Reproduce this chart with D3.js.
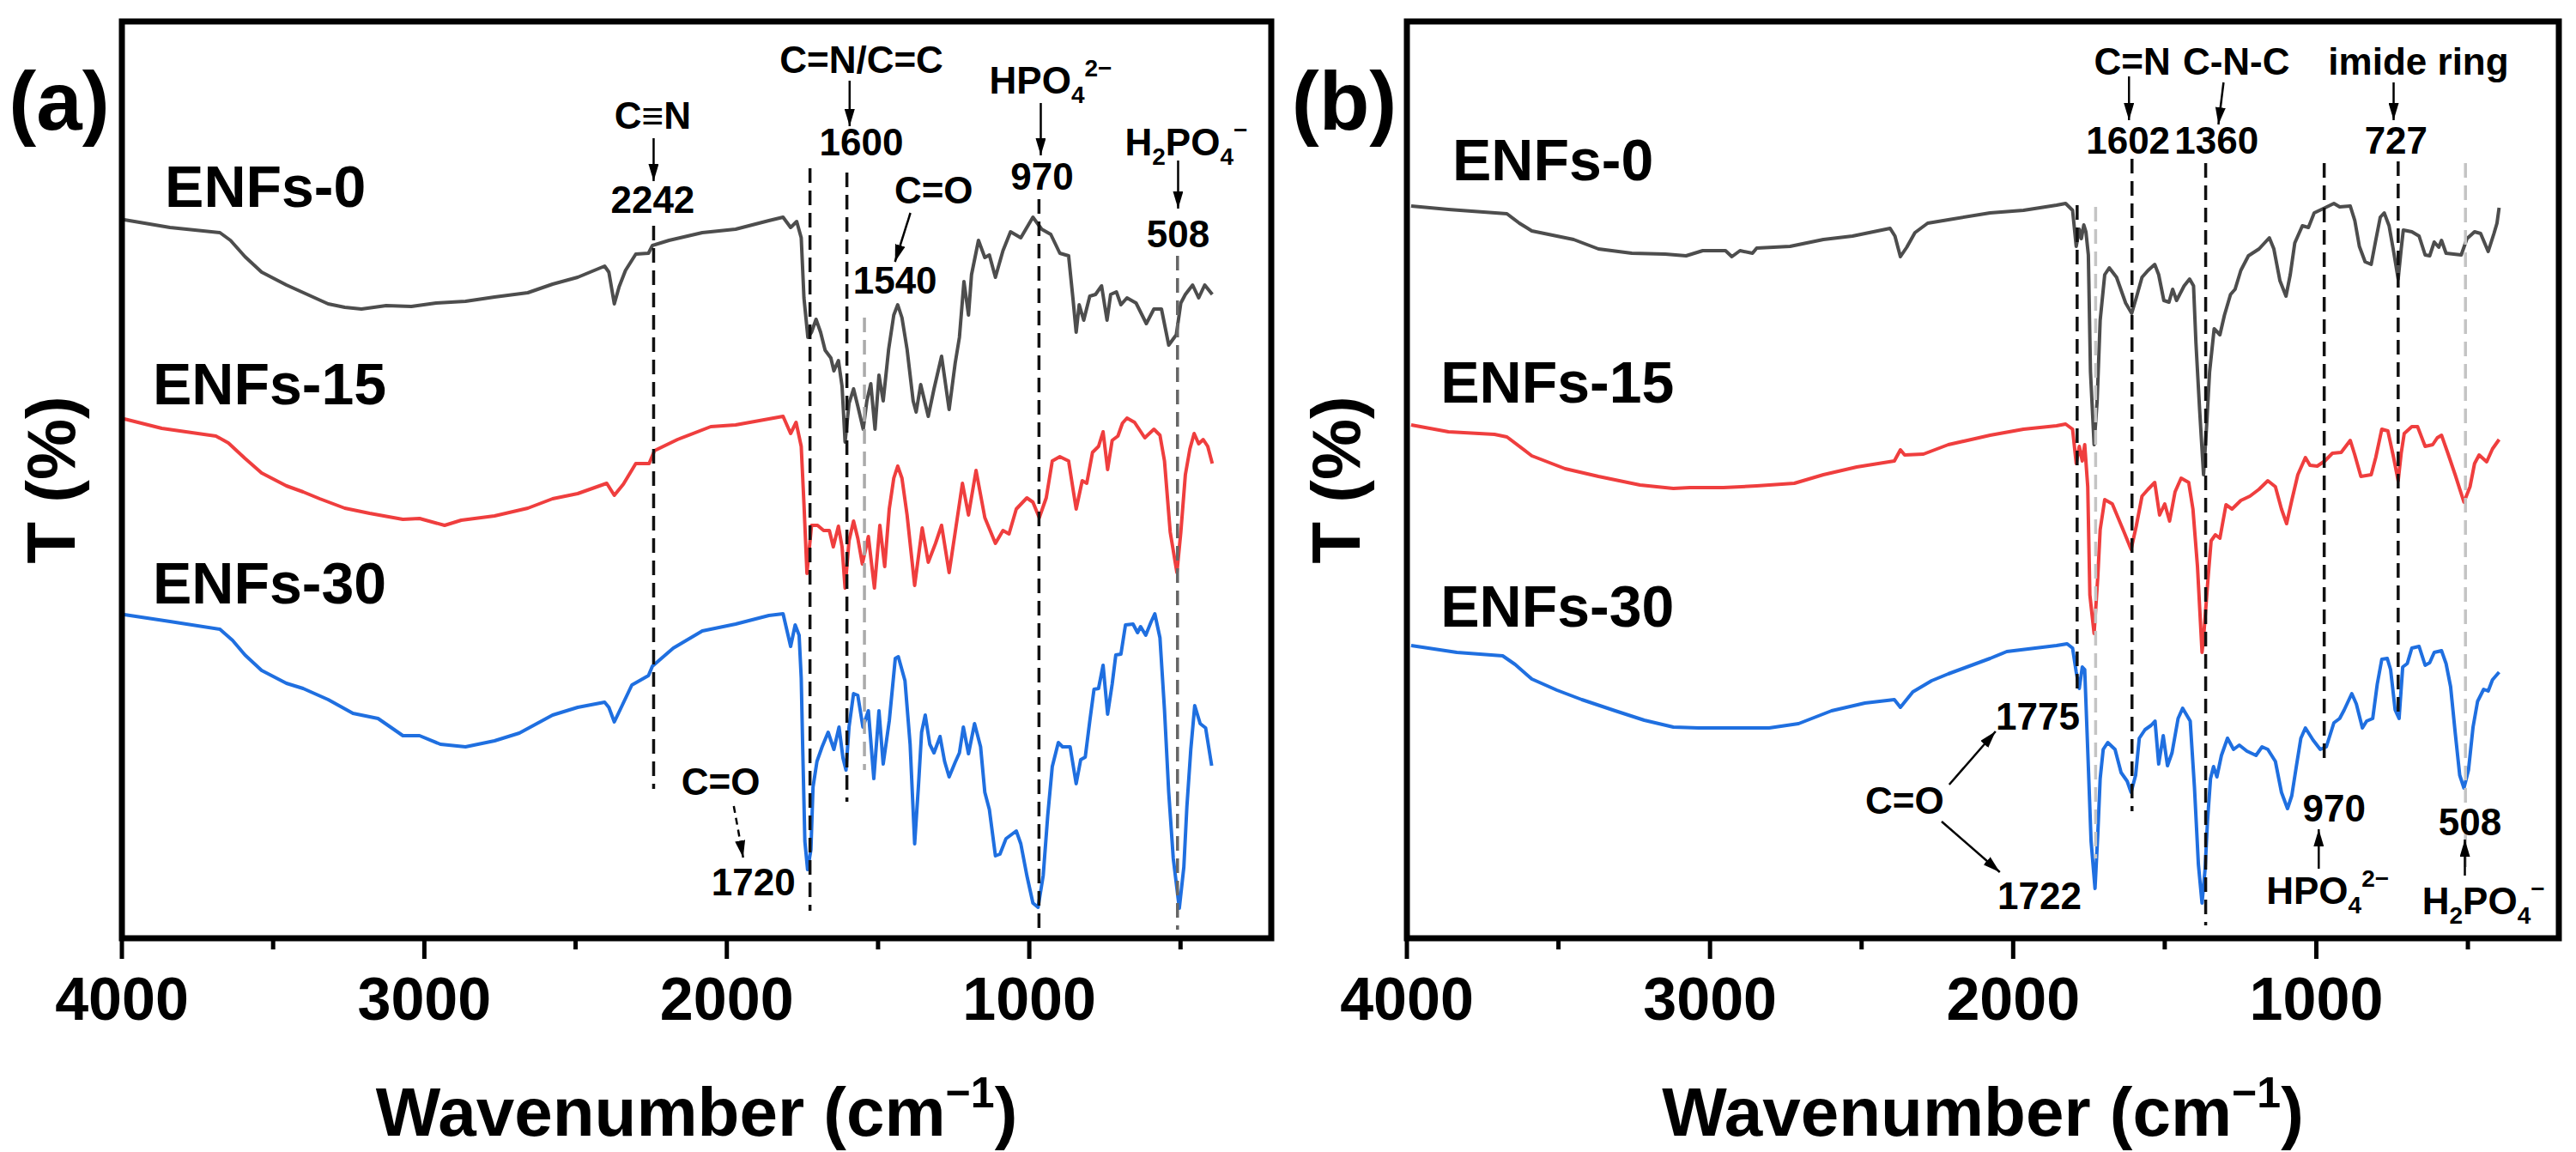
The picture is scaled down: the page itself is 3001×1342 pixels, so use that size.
<!DOCTYPE html>
<html>
<head>
<meta charset="utf-8">
<script src="https://cdn.jsdelivr.net/npm/d3@7"></script>
<style>
  body { margin: 0; background: #fff; }
  svg { display: block; }
  text { font-family: "Liberation Sans", Arial, sans-serif; font-weight: bold; fill: #000; }
</style>
</head>
<body>
<div id="chart"></div>
<script>
// axis ticks
var majorTicks = [4000, 3000, 2000, 1000];
var minorTicks = [3500, 2500, 1500, 500];
var sampleNames = ["ENFs-0", "ENFs-15", "ENFs-30"];
var sampleColors = ["#4d4d4d", "#ef3e3e", "#1f6fe0"];

// spectra: [wavenumber, T (arbitrary units)]
var aEnfs0 = [[3992,83.7],[3841,82.8],[3676,82.2],[3641,81.3],[3593,79.4],[3538,77.6],[3456,76.1],[3387,75.0],[3318,73.9],[3263,73.5],[3208,73.3],[3126,73.7],[3043,73.6],[2961,74.0],[2864,74.2],[2768,74.7],[2658,75.2],[2576,76.2],[2493,77.0],[2404,78.3],[2390,77.6],[2372,73.9],[2356,75.9],[2335,77.8],[2301,79.7],[2259,79.8],[2246,80.7],[2191,81.3],[2081,82.2],[1971,82.6],[1861,83.6],[1814,84.0],[1789,82.8],[1769,83.5],[1754,81.6],[1745,74.6],[1732,70.0],[1720,70.6],[1705,72.1],[1690,70.6],[1675,68.5],[1656,67.6],[1646,66.1],[1631,67.3],[1619,64.3],[1609,57.8],[1596,62.3],[1581,64.0],[1567,62.0],[1549,59.3],[1537,62.6],[1524,64.6],[1510,59.3],[1497,65.6],[1483,62.6],[1465,68.6],[1448,72.6],[1435,73.8],[1421,72.3],[1404,68.6],[1384,62.6],[1374,61.3],[1359,64.5],[1334,60.8],[1315,64.0],[1290,67.8],[1265,61.6],[1245,67.0],[1231,70.0],[1216,76.5],[1201,72.6],[1191,77.3],[1168,81.3],[1147,79.3],[1132,79.6],[1112,77.0],[1087,80.1],[1062,82.3],[1028,81.6],[1013,82.5],[988,84.0],[959,82.6],[929,82.0],[899,79.8],[870,79.5],[855,74.3],[845,70.6],[835,73.8],[820,72.0],[800,74.8],[781,75.0],[761,76.0],[743,72.0],[731,75.0],[712,75.3],[697,73.8],[677,74.6],[647,74.0],[613,71.6],[588,73.3],[563,73.3],[539,69.1],[514,70.3],[499,74.0],[484,75.0],[460,76.1],[440,74.6],[420,76.1],[395,75.0]];

var aEnfs15 = [[3992,60.5],[3868,59.4],[3689,58.5],[3648,57.7],[3593,55.9],[3538,54.2],[3456,52.7],[3401,52.0],[3346,51.2],[3263,50.1],[3181,49.5],[3071,48.8],[3016,48.9],[2933,48.1],[2878,48.7],[2768,49.2],[2658,50.1],[2576,51.2],[2493,51.8],[2397,53.0],[2372,51.6],[2342,52.9],[2301,55.3],[2257,55.3],[2239,56.8],[2163,58.1],[2053,59.6],[1971,59.8],[1861,60.5],[1814,60.8],[1789,58.8],[1771,60.1],[1754,57.3],[1745,50.6],[1735,42.5],[1720,48.1],[1700,48.1],[1680,47.5],[1661,47.5],[1648,45.6],[1631,48.0],[1619,45.6],[1609,40.8],[1596,46.3],[1581,48.6],[1567,46.6],[1552,43.6],[1532,46.8],[1512,40.8],[1494,48.1],[1478,43.3],[1463,50.0],[1448,53.6],[1435,55.0],[1421,53.6],[1404,49.3],[1379,41.1],[1354,47.8],[1334,43.8],[1310,46.0],[1290,48.1],[1265,42.6],[1245,47.3],[1221,53.0],[1201,49.3],[1176,54.5],[1147,49.0],[1112,46.0],[1087,47.5],[1067,47.1],[1043,50.0],[1008,51.3],[988,50.8],[967,49.0],[944,51.3],[924,55.6],[899,56.1],[870,55.6],[845,50.0],[825,53.3],[810,53.0],[791,56.6],[771,57.3],[756,59.0],[741,54.6],[726,58.0],[707,58.5],[692,60.0],[677,60.6],[652,60.1],[618,58.3],[588,59.3],[568,58.6],[553,55.6],[534,47.3],[512,42.6],[499,47.3],[484,54.0],[469,57.0],[455,58.8],[440,57.6],[425,58.1],[410,57.3],[395,55.3]];

var aEnfs30 = [[3992,37.7],[3841,36.9],[3676,36.0],[3634,34.7],[3593,33.0],[3538,31.2],[3456,29.7],[3401,29.1],[3318,27.8],[3236,26.2],[3153,25.6],[3071,23.6],[3016,23.6],[2947,22.6],[2864,22.3],[2768,23.0],[2686,23.9],[2576,26.0],[2493,26.9],[2404,27.5],[2390,26.9],[2372,25.2],[2349,26.9],[2314,29.5],[2259,30.6],[2246,31.7],[2177,33.8],[2081,35.8],[1971,36.6],[1861,37.6],[1814,37.8],[1789,34.0],[1774,36.5],[1761,35.3],[1754,30.3],[1749,22.0],[1742,11.3],[1733,8.0],[1722,10.3],[1715,17.6],[1702,20.6],[1685,22.3],[1665,24.0],[1646,22.0],[1629,24.6],[1616,21.0],[1606,19.6],[1596,24.6],[1581,28.5],[1567,28.3],[1550,24.6],[1532,26.5],[1514,18.6],[1497,26.5],[1483,20.3],[1463,25.3],[1443,32.6],[1433,32.8],[1411,30.0],[1394,22.6],[1379,11.0],[1366,18.0],[1356,24.0],[1344,26.0],[1329,22.6],[1315,21.6],[1295,23.5],[1280,20.6],[1265,18.8],[1245,20.5],[1231,21.6],[1218,24.6],[1201,21.5],[1181,25.0],[1161,22.3],[1147,17.0],[1132,15.0],[1112,9.6],[1097,9.8],[1077,11.6],[1043,12.5],[1028,11.0],[1008,7.3],[988,4.1],[971,3.6],[954,7.3],[939,14.3],[924,20.0],[904,22.8],[890,22.3],[865,22.3],[845,18.0],[830,20.8],[815,21.1],[800,25.3],[786,29.0],[771,29.1],[756,31.8],[741,26.1],[726,29.6],[714,33.0],[697,33.1],[682,36.5],[657,36.6],[642,35.6],[632,36.3],[615,35.3],[598,36.8],[585,37.8],[568,35.0],[553,26.6],[539,17.0],[524,9.3],[504,3.5],[489,8.3],[479,15.3],[466,22.0],[453,27.1],[435,25.0],[417,24.5],[407,22.3],[397,20.1]];

var bEnfs0 = [[3986,85.3],[3863,84.9],[3670,84.4],[3629,83.3],[3588,82.4],[3450,81.4],[3368,80.3],[3258,79.8],[3148,79.7],[3079,79.5],[3024,80.1],[2949,80.1],[2928,79.4],[2901,80.1],[2860,79.8],[2846,80.4],[2736,80.6],[2626,81.4],[2530,81.8],[2406,82.7],[2390,81.8],[2372,79.4],[2351,80.5],[2324,82.2],[2282,83.3],[2214,83.7],[2076,84.5],[1966,84.8],[1857,85.4],[1827,85.6],[1804,84.8],[1792,80.6],[1782,82.6],[1775,81.5],[1767,83.1],[1760,82.3],[1752,79.6],[1745,66.0],[1733,57.5],[1723,62.6],[1713,72.0],[1698,77.3],[1683,78.1],[1659,77.0],[1629,74.0],[1609,72.8],[1594,74.6],[1575,77.0],[1555,77.8],[1533,78.5],[1520,77.3],[1503,74.3],[1486,74.1],[1474,75.6],[1461,74.3],[1436,76.0],[1418,76.8],[1405,76.0],[1397,69.3],[1385,61.6],[1372,54.0],[1362,59.6],[1352,66.0],[1337,71.0],[1318,70.3],[1303,72.6],[1283,75.0],[1268,75.6],[1249,77.8],[1224,79.5],[1189,80.3],[1155,81.6],[1140,80.3],[1120,76.6],[1100,74.8],[1086,77.3],[1071,81.0],[1046,83.0],[1026,82.8],[1007,84.5],[977,85.0],[942,85.6],[923,85.2],[888,85.3],[873,83.6],[858,80.6],[839,78.8],[819,78.5],[804,81.3],[789,84.0],[776,84.5],[760,83.0],[745,80.0],[730,76.8],[720,80.3],[713,82.5],[685,82.3],[661,81.8],[641,79.6],[626,79.5],[611,81.1],[596,80.5],[587,81.3],[572,79.8],[547,79.7],[522,79.6],[503,81.5],[478,82.3],[458,82.1],[433,80.0],[414,82.1],[404,83.3],[397,85.1]];

var bEnfs15 = [[3986,59.8],[3863,59.0],[3711,58.7],[3670,58.4],[3588,56.2],[3478,54.7],[3368,53.8],[3231,52.8],[3121,52.4],[3066,52.5],[2956,52.5],[2846,52.7],[2722,53.0],[2626,54.0],[2516,54.9],[2392,55.6],[2372,56.9],[2358,56.3],[2296,56.4],[2214,57.5],[2076,58.6],[1966,59.3],[1857,59.7],[1827,59.9],[1804,59.3],[1792,55.3],[1782,57.3],[1772,55.6],[1764,57.5],[1754,52.6],[1747,40.0],[1733,35.5],[1721,42.0],[1713,47.6],[1698,51.1],[1673,50.6],[1634,47.3],[1611,45.3],[1594,48.0],[1575,51.5],[1555,52.3],[1533,53.1],[1517,49.3],[1500,50.6],[1484,48.6],[1466,52.0],[1446,53.6],[1421,53.1],[1407,50.0],[1392,43.3],[1377,33.3],[1372,35.0],[1357,42.0],[1347,46.3],[1333,47.0],[1318,46.6],[1298,50.5],[1278,50.0],[1249,51.0],[1219,51.5],[1189,52.3],[1160,53.3],[1135,52.6],[1115,50.0],[1098,48.3],[1081,51.0],[1061,54.0],[1036,56.0],[1021,55.1],[997,55.0],[972,55.6],[947,56.5],[918,56.6],[888,58.0],[873,56.3],[853,53.8],[819,54.0],[804,56.0],[784,59.3],[764,59.1],[745,56.0],[730,53.3],[720,56.5],[710,58.8],[685,59.6],[666,59.6],[641,57.3],[616,57.5],[601,58.3],[587,58.6],[567,56.6],[542,54.0],[513,50.8],[493,52.6],[478,55.3],[463,56.3],[438,55.5],[419,57.0],[397,58.1]];

var bEnfs30 = [[3986,34.1],[3835,33.3],[3684,32.9],[3643,31.9],[3588,30.2],[3505,28.9],[3423,27.8],[3313,26.5],[3217,25.4],[3121,24.6],[3038,24.5],[2805,24.5],[2708,25.0],[2599,26.5],[2489,27.4],[2392,27.8],[2372,26.9],[2331,28.7],[2269,30.0],[2214,30.8],[2076,32.6],[2021,33.4],[1857,34.1],[1822,34.3],[1804,33.8],[1792,31.0],[1782,29.1],[1772,31.6],[1764,31.3],[1752,20.0],[1743,11.3],[1730,5.8],[1721,12.0],[1713,18.6],[1703,22.0],[1688,22.8],[1664,22.0],[1644,19.3],[1624,18.3],[1611,17.0],[1596,19.0],[1584,23.3],[1565,24.3],[1545,24.8],[1532,25.3],[1520,20.3],[1505,23.6],[1491,20.1],[1476,21.6],[1456,25.6],[1441,26.8],[1416,25.3],[1402,17.6],[1389,8.6],[1377,4.1],[1367,8.0],[1359,13.6],[1349,18.6],[1339,20.0],[1328,18.8],[1313,21.3],[1293,23.3],[1273,22.0],[1254,22.5],[1229,21.8],[1199,21.3],[1179,22.3],[1160,22.0],[1135,20.6],[1115,17.0],[1095,15.1],[1081,16.6],[1066,20.0],[1051,23.3],[1036,24.5],[1011,23.1],[987,22.0],[967,22.3],[942,25.1],[923,25.6],[908,26.6],[883,28.5],[868,27.3],[848,24.5],[834,25.3],[814,25.6],[799,29.6],[784,32.5],[766,32.6],[755,31.3],[740,26.6],[727,25.6],[715,31.6],[700,32.0],[685,33.8],[661,34.0],[641,31.8],[626,32.1],[611,33.3],[587,33.5],[572,32.0],[557,29.3],[542,24.0],[527,19.0],[513,17.5],[498,19.6],[483,24.6],[468,27.6],[448,29.0],[433,28.8],[419,30.1],[397,31.0]];

// chemical labels as [text, shift] pieces (shift: 1 = subscript, -1 = superscript)
var hpo4 = [["HPO", 0], ["4", 1], ["2\u2212", -1]];
var h2po4 = [["H", 0], ["2", 1], ["PO", 0], ["4", 1], ["\u2212", -1]];

// size / layout setup
var w = 3001;
var h = 1342;
var plotTop = 25;
var plotBottom = 1093;

var panels = [
    {
        letter: "(a)", left: 142, right: 1481,
        series: [aEnfs0, aEnfs15, aEnfs30],
        // name label anchors in data space
        names: [[3858, 85.2], [3898, 62.2], [3898, 39.0]],
        // dashed guides: [wavenumber, T top, T bottom, colour]
        guides: [[2242, 83.0, 17.4, "#111"], [1725, 89.7, 3.2, "#111"], [1603, 89.2, 15.9, "#111"],
                 [1545, 72.3, 19.6, "#aaa"], [968, 86.1, 0.3, "#111"], [510, 79.5, 1.0, "#666"]],
        // arrows: [w1, t1, w2, t2, dashed]
        arrows: [[2242, 93.2, 2242, 88.2, false], [1594, 99.9, 1594, 94.6, false], [1393, 84.5, 1444, 78.8, false],
                 [962, 97.3, 962, 91.2, false], [508, 90.6, 508, 85.0, false], [1977, 15.4, 1946, 9.4, true]],
        // labels: [wavenumber, T, pieces, anchor]
        labels: [[2245, 94.3, [["C\u2261N", 0]], "middle"], [2245, 84.5, [["2242", 0]], "middle"],
                 [1555, 100.8, [["C=N/C=C", 0]], "middle"], [1555, 91.2, [["1600", 0]], "middle"],
                 [1316, 85.6, [["C=O", 0]], "middle"], [1444, 75.1, [["1540", 0]], "middle"],
                 [1132, 98.4, hpo4, "start"], [958, 87.2, [["970", 0]], "middle"],
                 [684, 91.2, h2po4, "start"], [508, 80.5, [["508", 0]], "middle"],
                 [2020, 16.7, [["C=O", 0]], "middle"], [1912, 5.0, [["1720", 0]], "middle"]]
    },
    {
        letter: "(b)", left: 1639, right: 2981,
        series: [bEnfs0, bEnfs15, bEnfs30],
        names: [[3850, 88.3], [3889, 62.4], [3889, 36.3]],
        guides: [[1789, 85.4, 28.8, "#111"], [1728, 85.2, 9.3, "#c4c4c4"], [1608, 90.8, 14.8, "#111"],
                 [1365, 90.3, 1.5, "#111"], [974, 90.3, 20.3, "#111"], [730, 90.5, 25.6, "#111"],
                 [508, 90.3, 8.3, "#c4c4c4"]],
        arrows: [[1618, 100.4, 1618, 95.3, false], [1306, 99.7, 1323, 94.8, false], [745, 99.7, 745, 95.3, false],
                 [2211, 17.9, 2058, 24.1, false], [2236, 13.6, 2044, 7.7, false],
                 [992, 8.1, 992, 12.7, false], [510, 7.3, 510, 11.5, false]],
        labels: [[1607, 100.6, [["C=N", 0]], "middle"], [1264, 100.6, [["C-N-C", 0]], "middle"],
                 [663, 100.6, [["imide ring", 0]], "middle"],
                 [1621, 91.4, [["1602", 0]], "middle"], [1329, 91.4, [["1360", 0]], "middle"],
                 [737, 91.4, [["727", 0]], "middle"],
                 [1919, 24.3, [["1775", 0]], "middle"], [2358, 14.5, [["C=O", 0]], "middle"],
                 [1913, 3.4, [["1722", 0]], "middle"], [941, 13.6, [["970", 0]], "middle"],
                 [1165, 4.0, hpo4, "start"], [493, 12.0, [["508", 0]], "middle"],
                 [651, 2.8, h2po4, "start"]]
    }
];

var svg = d3.select("#chart")
    .append("svg")
    .attr("width", w)
    .attr("height", h);

// arrow head
svg.append("defs").append("marker")
    .attr("id", "head")
    .attr("markerUnits", "userSpaceOnUse")
    .attr("viewBox", "0 0 20 12")
    .attr("refX", 20)
    .attr("refY", 6)
    .attr("markerWidth", 20)
    .attr("markerHeight", 12)
    .attr("orient", "auto")
    .append("path")
    .attr("d", "M0,0 L20,6 L0,12 Z")
    .attr("fill", "#000");

var yScale = d3.scaleLinear()
    .domain([0, 106.8])
    .range([plotBottom, plotTop]);

// writes text with sub/superscripts
function chemText(sel, pieces, small) {
    var cur = 0;
    pieces.forEach(function(p) {
        var shift = p[1];
        var ts = sel.append("tspan").text(p[0]);
        var target = shift === 1 ? 11 : (shift === -1 ? -20 : 0);
        if (shift !== 0) ts.attr("font-size", small);
        ts.attr("dy", target - cur);
        cur = target;
    });
}

panels.forEach(function(p) {
    var xScale = d3.scaleLinear()
        .domain([4000, 200])
        .range([p.left, p.right]);

    var g = svg.append("g");

    // spectra
    var line = d3.line()
        .x(d => xScale(d[0]))
        .y(d => yScale(d[1]))
        .curve(d3.curveLinear);

    p.series.forEach(function(s, i) {
        g.append("path")
            .datum(s)
            .attr("d", line)
            .attr("fill", "none")
            .attr("stroke", sampleColors[i])
            .attr("stroke-width", 4)
            .attr("stroke-linejoin", "round");
    });

    // dashed guide lines on top of the curves
    g.selectAll("line.guide")
        .data(p.guides)
        .enter()
        .append("line")
        .attr("class", "guide")
        .attr("x1", d => xScale(d[0]))
        .attr("x2", d => xScale(d[0]))
        .attr("y1", d => yScale(d[1]))
        .attr("y2", d => yScale(d[2]))
        .attr("stroke", d => d[3])
        .attr("stroke-width", 3.5)
        .attr("stroke-dasharray", "17,9");

    // arrows
    g.selectAll("line.arrow")
        .data(p.arrows)
        .enter()
        .append("line")
        .attr("class", "arrow")
        .attr("x1", d => xScale(d[0]))
        .attr("y1", d => yScale(d[1]))
        .attr("x2", d => xScale(d[2]))
        .attr("y2", d => yScale(d[3]))
        .attr("stroke", "#000")
        .attr("stroke-width", 2.5)
        .attr("stroke-dasharray", d => d[4] ? "8,6" : null)
        .attr("marker-end", "url(#head)");

    // peak labels
    p.labels.forEach(function(l) {
        var t = g.append("text")
            .attr("x", xScale(l[0]))
            .attr("y", yScale(l[1]))
            .attr("text-anchor", l[3])
            .attr("font-size", 44);
        chemText(t, l[2], 28);
    });

    // sample names
    p.names.forEach(function(n, i) {
        g.append("text")
            .attr("x", xScale(n[0]))
            .attr("y", yScale(n[1]))
            .attr("font-size", 68)
            .text(sampleNames[i]);
    });

    // frame
    g.append("rect")
        .attr("x", p.left)
        .attr("y", plotTop)
        .attr("width", p.right - p.left)
        .attr("height", plotBottom - plotTop)
        .attr("fill", "none")
        .attr("stroke", "#000")
        .attr("stroke-width", 7);

    // bottom axis
    var axis = g.append("g")
        .attr("transform", `translate(0,${plotBottom})`);

    axis.selectAll("line.major")
        .data(majorTicks)
        .enter()
        .append("line")
        .attr("x1", d => xScale(d))
        .attr("x2", d => xScale(d))
        .attr("y1", 0)
        .attr("y2", 24)
        .attr("stroke", "#000")
        .attr("stroke-width", 5);

    axis.selectAll("line.minor")
        .data(minorTicks)
        .enter()
        .append("line")
        .attr("x1", d => xScale(d))
        .attr("x2", d => xScale(d))
        .attr("y1", 0)
        .attr("y2", 13)
        .attr("stroke", "#000")
        .attr("stroke-width", 5);

    axis.selectAll("text")
        .data(majorTicks)
        .enter()
        .append("text")
        .attr("x", d => xScale(d))
        .attr("y", 95)
        .attr("text-anchor", "middle")
        .attr("font-size", 70)
        .text(d => d);

    // axis titles
    var xt = g.append("text")
        .attr("x", (p.left + p.right) / 2)
        .attr("y", 1323)
        .attr("text-anchor", "middle")
        .attr("font-size", 80);
    xt.append("tspan").text("Wavenumber (cm");
    xt.append("tspan").attr("font-size", 50).attr("dy", -33).text("\u22121");
    xt.append("tspan").attr("dy", 33).text(")");

    g.append("text")
        .attr("transform", `translate(${p.left - 55},${(plotTop + plotBottom) / 2}) rotate(-90)`)
        .attr("text-anchor", "middle")
        .attr("font-size", 80)
        .text("T (%)");

    // panel letter
    g.append("text")
        .attr("x", p.left - 73)
        .attr("y", 151)
        .attr("text-anchor", "middle")
        .attr("font-size", 96)
        .text(p.letter);
});
</script>
</body>
</html>
